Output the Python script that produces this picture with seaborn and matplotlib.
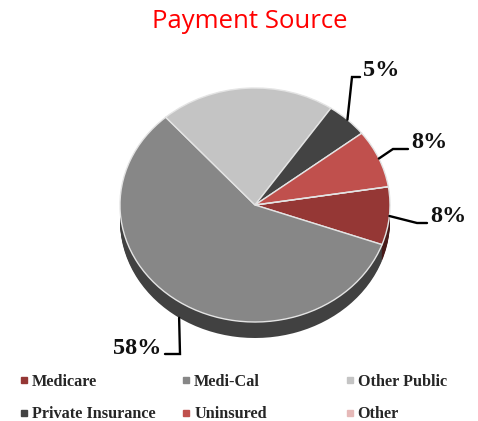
import numpy as np
import matplotlib.pyplot as plt
import seaborn as sns
from matplotlib.colors import to_rgb
from matplotlib.lines import Line2D

# data
sources = ["Medicare", "Medi-Cal", "Other Public", "Private Insurance", "Uninsured", "Other"]
shares = [8, 58, 21, 5, 8, 0]
colors = ["#953735", "#878787", "#c4c4c4", "#434343", "#c0504d", "#e6b9b8"]

sns.set_theme(style="white")

W, H = 478, 421
fig = plt.figure(figsize=(W / 100, H / 100), dpi=100)
ax = fig.add_axes([0, 0, 1, 1])

# pie geometry in pixels: centre, horizontal / vertical radius, rim depth
cx, cy, rx, ry = 255, 205, 135, 117
depth = 16 / ry
start = 9


def px(x, y):
    # pixel position (from top-left) -> data coords
    return (x - cx) / rx, (cy - y) / ry


def darker(c, f=0.48):
    return tuple(v * f for v in to_rgb(c))


# side of the "3d" disc: stacked darker pies
side = [darker(c) for c in colors]
for off in np.linspace(depth, 0.004, 14):
    ax.pie(shares, colors=side, startangle=start, counterclock=False,
           center=(0, -off), wedgeprops=dict(linewidth=0))

wedges, _ = ax.pie(shares, colors=colors, startangle=start, counterclock=False,
                   wedgeprops=dict(edgecolor="#e4e4e4", linewidth=1))

ax.set_aspect("auto")
ax.set_xlim(-cx / rx, (W - cx) / rx)
ax.set_ylim(-(H - cy) / ry, cy / ry)
ax.axis("off")

# leader lines: elbow / end in pixels, text side
leaders = {
    "Medicare": ((417, 223), (427, 223), "left"),
    "Medi-Cal": ((180, 354), (165, 354), "right"),
    "Private Insurance": ((352, 77), (360, 77), "left"),
    "Uninsured": ((393, 149), (408, 149), "left"),
}

for w, name, v in zip(wedges, sources, shares):
    if v == 0 or name not in leaders:
        continue
    mid = np.deg2rad((w.theta1 + w.theta2) / 2)
    ax_, ay_ = np.cos(mid), np.sin(mid)
    if ay_ < -0.5:
        ay_ -= depth
    (ex, ey), (tx, ty), side_ = leaders[name]
    e = px(ex, ey)
    t = px(tx, ty)
    ax.plot([ax_, e[0], t[0]], [ay_, e[1], t[1]], color="black", lw=1.7,
            solid_joinstyle="miter")
    if side_ == "left":
        lab = px(tx + 3, ty - 6)
        ha = "left"
    else:
        lab = px(tx - 4, ty - 6)
        ha = "right"
    ax.text(lab[0], lab[1], f"{v}%", ha=ha, va="center", fontsize=17.5,
            fontweight="bold", family="Liberation Serif", color="#111111")

fig.text(250 / W, 1 - 21 / H, "Payment Source", ha="center", va="center",
         color="#ff0000", fontsize=18.5, family="Open Sans")

# legend: three columns, row-major like the original
cols = [(0, 3), (1, 4), (2, 5)]
col_x = [20.5, 183, 346.5]
for (i, j), x in zip(cols, col_x):
    handles = [Line2D([], [], marker="s", linestyle="none", markersize=4.5,
                      color=colors[k]) for k in (i, j)]
    leg = fig.legend(handles, [sources[i], sources[j]], loc="upper left",
                     bbox_to_anchor=(x / W, 1 - 374 / H), frameon=False,
                     borderpad=0, borderaxespad=0, handlelength=0.4,
                     handletextpad=0.29, labelspacing=1.0,
                     prop=dict(family="Liberation Serif", weight="bold", size=11.7))

fig.savefig("out.png", dpi=100, facecolor="white")
